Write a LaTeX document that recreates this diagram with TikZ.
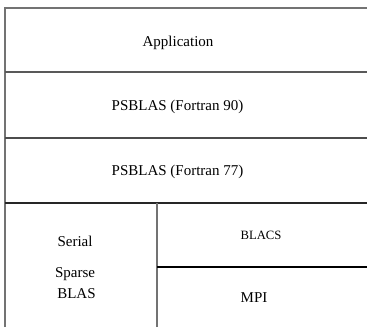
\documentclass[tikz,border=0pt]{standalone}
\usepackage{fontspec}
\setmainfont{Liberation Serif}
\usepackage{tikz}

\begin{document}
\begin{tikzpicture}[x=1pt,y=1pt]
  \tikzstyle{layer}=[line width=1.2pt]
  \tikzstyle{every node}=[font=\fontsize{15}{18}\selectfont,inner sep=0pt,anchor=base]

  \useasboundingbox (0,0) rectangle (367,327);

  % layer borders
  \draw[layer,black!55] (5,0) -- (5,319) -- (367,319);
  \draw[layer,black!65] (5,255) -- (367,255);
  \draw[layer,black!70] (5,189) -- (367,189);
  \draw[layer,black!85] (5,124) -- (367,124);
  \draw[layer,black!55] (157,0) -- (157,124);
  \draw[layer,black] (157,60) -- (367,60);

  \draw (178,280) node (app) {Application};
  \draw (177.5,216) node (f90) {PSBLAS (Fortran 90)};
  \draw (177.5,151) node (f77) {PSBLAS (Fortran 77)};

  \draw (75,81) node (serial) {Serial};
  \draw (75,49) node (sparse) {Sparse};
  \draw (76.5,29) node (blas) {BLAS};

  \draw (261,87) node[font=\fontsize{12.7}{15}\selectfont] (blacs) {BLACS};
  \draw (254,25) node (mpi) {MPI};

\end{tikzpicture}
\end{document}
